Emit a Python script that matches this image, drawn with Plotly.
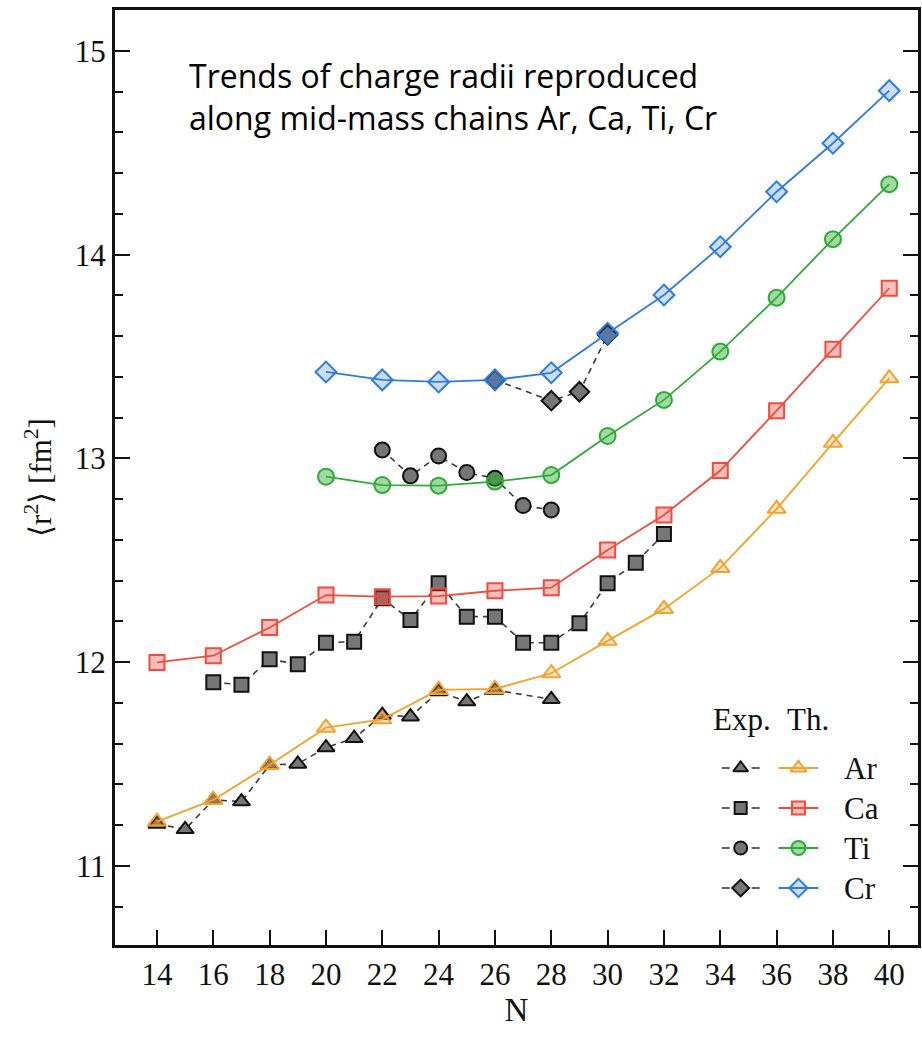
import plotly.graph_objects as go

# ---- data: mean-square charge radii <r^2> [fm^2] versus neutron number N ----
# theory (even N)
th_N_ar = [14, 16, 18, 20, 22, 24, 26, 28, 30, 32, 34, 36, 38, 40]
th_ar = [11.217, 11.323, 11.495, 11.678, 11.719, 11.863, 11.868, 11.945,
         12.104, 12.261, 12.462, 12.752, 13.076, 13.393]
th_N_ca = [14, 16, 18, 20, 22, 24, 26, 28, 30, 32, 34, 36, 38, 40]
th_ca = [11.998, 12.031, 12.170, 12.329, 12.321, 12.324, 12.350, 12.365,
         12.550, 12.722, 12.940, 13.234, 13.536, 13.835]
th_N_ti = [20, 22, 24, 26, 28, 30, 32, 34, 36, 38, 40]
th_ti = [12.910, 12.869, 12.866, 12.886, 12.918, 13.110, 13.287, 13.524,
         13.789, 14.076, 14.346]
th_N_cr = [20, 22, 24, 26, 28, 30, 32, 34, 36, 38, 40]
th_cr = [13.424, 13.385, 13.375, 13.385, 13.420, 13.614, 13.802, 14.039,
         14.309, 14.547, 14.805]

# experiment
ex_N_ar = [14, 15, 16, 17, 18, 19, 20, 21, 22, 23, 24, 25, 26, 28]
ex_ar = [11.205, 11.179, 11.323, 11.315, 11.495, 11.500, 11.580, 11.626,
         11.740, 11.732, 11.855, 11.806, 11.863, 11.817]
ex_N_ca = [16, 17, 18, 19, 20, 21, 22, 23, 24, 25, 26, 27, 28, 29, 30, 31, 32]
ex_ca = [11.901, 11.888, 12.014, 11.989, 12.095, 12.100, 12.313, 12.207,
         12.387, 12.223, 12.223, 12.095, 12.095, 12.190, 12.387, 12.488, 12.629]
ex_N_ti = [22, 23, 24, 25, 26, 27, 28]
ex_ti = [13.041, 12.914, 13.012, 12.930, 12.902, 12.768, 12.747]
ex_N_cr = [26, 28, 29, 30]
ex_cr = [13.385, 13.283, 13.327, 13.606]

elements = ["Ar", "Ca", "Ti", "Cr"]
x_ticks = list(range(14, 41, 2))
y_ticks = [11, 12, 13, 14, 15]

# ---- styling ----
colors = {"Ar": "#F5A12B", "Ca": "#F24A3D", "Ti": "#2FAA36", "Cr": "#2F7BE0"}
fills = {"Ar": "rgba(245,161,43,0.25)", "Ca": "rgba(242,74,61,0.35)",
         "Ti": "rgba(47,170,54,0.45)", "Cr": "rgba(47,123,224,0.25)"}
symbols = {"Ar": "triangle-up", "Ca": "square", "Ti": "circle", "Cr": "diamond"}
msize = {"Ar": 16, "Ca": 15, "Ti": 16, "Cr": 16}

exp_data = {"Ar": (ex_N_ar, ex_ar), "Ca": (ex_N_ca, ex_ca),
            "Ti": (ex_N_ti, ex_ti), "Cr": (ex_N_cr, ex_cr)}
th_data = {"Ar": (th_N_ar, th_ar), "Ca": (th_N_ca, th_ca),
           "Ti": (th_N_ti, th_ti), "Cr": (th_N_cr, th_cr)}

SERIF = "Liberation Serif, Times New Roman, serif"
X_RANGE = [12.51, 41.02]
Y_RANGE = [10.611, 15.201]

fig = go.Figure()

# experimental chains: grey markers on a dashed line
for el in elements:
    n, v = exp_data[el]
    fig.add_trace(go.Scatter(
        x=n, y=v, mode="lines+markers", showlegend=False,
        line=dict(color="#3a3a3a", width=1.6, dash="6px,5px"),
        marker=dict(symbol=symbols[el], size=msize[el] - 1, color="#767676",
                    line=dict(color="#111111", width=2)),
    ))

# theoretical chains: coloured open markers on top
for el in elements:
    n, v = th_data[el]
    fig.add_trace(go.Scatter(
        x=n, y=v, mode="lines+markers", showlegend=False,
        line=dict(color=colors[el], width=1.8),
        marker=dict(symbol=symbols[el], size=msize[el], color=fills[el],
                    line=dict(color=colors[el], width=2)),
    ))

# ---- hand-built two-column legend (Exp. / Th.) ----
L, R, T, B = 115, 921, 10, 945


def fx(px):
    return (px - L) / (R - L)


def fy(py):
    return (B - py) / (B - T)


def dx(px):
    return X_RANGE[0] + fx(px) * (X_RANGE[1] - X_RANGE[0])


def dy(py):
    return Y_RANGE[0] + fy(py) * (Y_RANGE[1] - Y_RANGE[0])


row_y = [768, 808, 848, 888]
shapes = []
annotations = []
for el, py in zip(elements, row_y):
    yy = fy(py)
    # experiment key: short dash, marker, short dash
    for a, b in ((724, 732), (754, 762)):
        shapes.append(dict(type="line", xref="paper", yref="paper",
                           x0=fx(a), x1=fx(b), y0=yy, y1=yy,
                           line=dict(color="#3a3a3a", width=1.6)))
    fig.add_trace(go.Scatter(
        x=[dx(743)], y=[dy(py)], mode="markers",
        showlegend=False, hoverinfo="skip",
        marker=dict(symbol=symbols[el], size=msize[el] - 3, color="#767676",
                    line=dict(color="#111111", width=2))))
    # theory key: solid line with marker
    shapes.append(dict(type="line", xref="paper", yref="paper",
                       x0=fx(781), x1=fx(821), y0=yy, y1=yy,
                       line=dict(color=colors[el], width=1.8)))
    fig.add_trace(go.Scatter(
        x=[dx(801)], y=[dy(py)], mode="markers",
        showlegend=False, hoverinfo="skip",
        marker=dict(symbol=symbols[el], size=msize[el] - 2,
                    color=fills[el], line=dict(color=colors[el], width=2))))
    annotations.append(dict(x=fx(845), y=yy, xref="paper", yref="paper",
                            text=el, showarrow=False, xanchor="left",
                            yanchor="middle",
                            font=dict(family=SERIF, size=31, color="#111")))

annotations.append(dict(x=fx(744), y=fy(719), xref="paper", yref="paper",
                        text="Exp.", showarrow=False, xanchor="center",
                        yanchor="middle",
                        font=dict(family=SERIF, size=31, color="#111")))
annotations.append(dict(x=fx(811), y=fy(719), xref="paper", yref="paper",
                        text="Th.", showarrow=False, xanchor="center",
                        yanchor="middle",
                        font=dict(family=SERIF, size=31, color="#111")))

# description text in the upper left
annotations.append(dict(
    x=fx(187), y=fy(97), xref="paper", yref="paper",
    text="Trends of charge radii reproduced<br>along mid-mass chains Ar, Ca, Ti, Cr",
    showarrow=False, xanchor="left", yanchor="middle", align="left",
    font=dict(family="Open Sans, Noto Sans, sans-serif", size=32, color="#000")))

fig.update_layout(
    width=922, height=1039,
    margin=dict(l=L, r=922 - R, t=T, b=1039 - B),
    paper_bgcolor="white", plot_bgcolor="white",
    shapes=shapes, annotations=annotations,
    xaxis=dict(
        range=X_RANGE, tickmode="array", tickvals=x_ticks,
        ticks="inside", ticklen=15, tickwidth=2, tickcolor="#111",
        showline=True, linewidth=3, linecolor="#111", mirror=True,
        showgrid=False, zeroline=False,
        tickfont=dict(family=SERIF, size=31, color="#111"),
        title=dict(text="N", font=dict(family=SERIF, size=33, color="#111"),
                   standoff=6),
    ),
    yaxis=dict(
        range=Y_RANGE, tickmode="array", tickvals=y_ticks,
        ticks="inside", ticklen=15, tickwidth=2, tickcolor="#111",
        minor=dict(ticks="inside", dtick=0.2, tick0=11, ticklen=8,
                   tickwidth=1.5, tickcolor="#111"),
        showline=True, linewidth=3, linecolor="#111", mirror="ticks",
        showgrid=False, zeroline=False,
        tickfont=dict(family=SERIF, size=31, color="#111"),
        title=dict(text="⟨r<sup>2</sup>⟩ [fm<sup>2</sup>]",
                   font=dict(family=SERIF, size=31, color="#111"),
                   standoff=14),
    ),
)

fig.write_html("out.html")
